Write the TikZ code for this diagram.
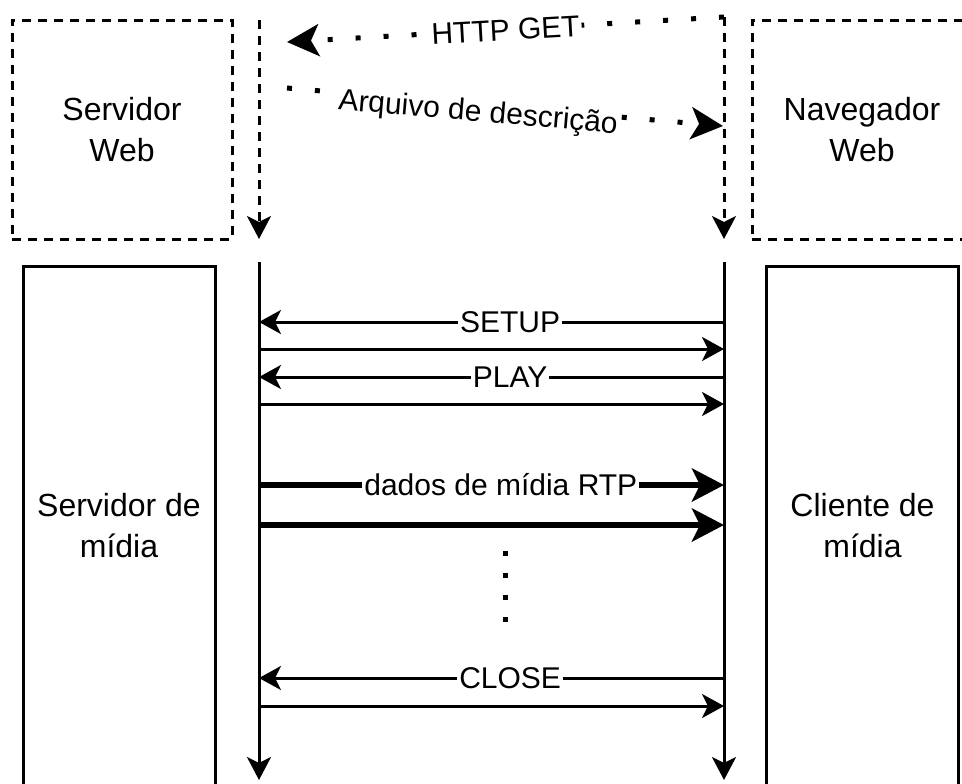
\documentclass[tikz,border=0pt]{standalone}
\usepackage{fontspec}
\setmainfont{Liberation Sans}
\usetikzlibrary{arrows.meta}

\tikzset{
  webbox/.style={draw, line width=1.5pt, dash pattern=on 4.5pt off 3.5pt, minimum width=110pt, minimum height=109.5pt, align=center, font=\fontsize{16}{20.5}\selectfont},
  mediabox/.style={draw, line width=1.5pt, minimum width=96pt, minimum height=260pt, align=center, font=\fontsize{16}{20.5}\selectfont},
  lifeline/.style={line width=1.5pt, -{Stealth[length=11.5pt,width=12pt,inset=3pt]}},
  weblife/.style={lifeline, dash pattern=on 4.5pt off 3.5pt},
  msgarrow/.style={line width=1.5pt, -{Stealth[length=11pt,width=12pt,inset=3pt]}},
  dataarrow/.style={line width=3pt, -{Stealth[length=16pt,width=16.5pt,inset=4pt]}},
  dotarrow/.style={line width=2.5pt, dash pattern=on 2.5pt off 11.5pt, -{Stealth[length=16pt,width=16pt,inset=4pt]}},
  msglabel/.style={fill=white, inner sep=1pt, text height=10.8pt, text depth=0pt, font=\fontsize{15}{18}\selectfont}
}

\begin{document}
\begin{tikzpicture}[x=0.5pt, y=-0.5pt]
\useasboundingbox (0,0) rectangle (962,783);

%%%%%%%%%%%%    boxes   %%%%%%%%%%%%
\node[webbox] (websrv) at (122,129.5) {Servidor\\Web};
\node[webbox] (webnav) at (862,129.5) {Navegador\\Web};
\node[mediabox] (mediasrv) at (119,526) {Servidor de\\mídia};
\node[mediabox] (mediacli) at (862.5,526) {Cliente de\\mídia};

%%%%%%%%%%%%    lifelines   %%%%%%%%%%%%
\coordinate (wsTop) at (259,20);
\coordinate (wsBot) at (259,239);
\coordinate (wnTop) at (724,17);
\coordinate (wnBot) at (724,239);
\coordinate (msTop) at (259,262);
\coordinate (msBot) at (259,780);
\coordinate (mcTop) at (724,262);
\coordinate (mcBot) at (724,780);

\draw[weblife] (wsTop)--(wsBot);
\draw[weblife] (wnTop)--(wnBot);
\draw[lifeline] (msTop)--(msBot);
\draw[lifeline] (mcTop)--(mcBot);

% web exchange
\coordinate (getL) at (287,42);
\coordinate (descL) at (287,88);
\coordinate (descR) at (723,126);

\draw[dotarrow] (wnTop)--(getL) node[msglabel, sloped, pos=0.5] (get) {HTTP GET};
\draw[dotarrow] (descL)--(descR) node[msglabel, sloped, pos=0.44, yshift=-3pt] (desc) {Arquivo de descrição};

%%%%%%%%%%%%    rtsp messages   %%%%%%%%%%%%
\foreach \m/\y in {setup/322,setupok/349,play/377,playok/404,rtpa/485,rtpb/525,close/678,closeok/706}{
  \coordinate (\m L) at (259,\y);
  \coordinate (\m R) at (724,\y);
}

\draw[msgarrow] (setupR)--(setupL) node[msglabel, pos=0.46] (setup) {SETUP};
\draw[msgarrow] (setupokL)--(setupokR);
\draw[msgarrow] (playR)--(playL) node[msglabel, pos=0.46] (play) {PLAY};
\draw[msgarrow] (playokL)--(playokR);

\draw[dataarrow] (rtpaL)--(rtpaR) node[msglabel, pos=0.52] (rtp) {dados de mídia RTP};
\draw[dataarrow] (rtpbL)--(rtpbR);

% more data
\coordinate (dotsTop) at (505,551);
\coordinate (dotsBot) at (505,622);
\draw[line width=2.5pt, dash pattern=on 2.5pt off 8.5pt] (dotsTop)--(dotsBot);

\draw[msgarrow] (closeR)--(closeL) node[msglabel, pos=0.46] (close) {CLOSE};
\draw[msgarrow] (closeokL)--(closeokR);

\end{tikzpicture}
\end{document}
